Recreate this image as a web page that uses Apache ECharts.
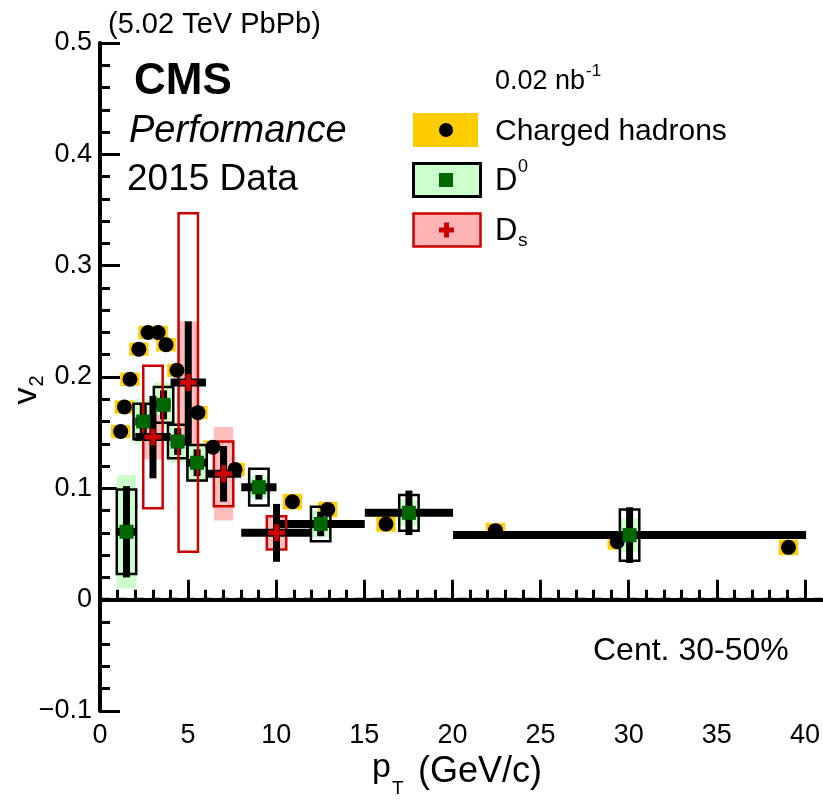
<!DOCTYPE html>
<html>
<head>
<meta charset="utf-8">
<script src="https://cdn.jsdelivr.net/npm/echarts@6/dist/echarts.min.js"></script>
<style>
  html, body { margin: 0; padding: 0; background: #fff; }
  #chart { width: 823px; height: 801px; }
</style>
</head>
<body>
<div id="chart"></div>
<script>
// ---- Charged hadrons v2 vs pT ----
const hadronPt  = [1.17, 1.38, 1.70, 2.20, 2.72, 3.29, 3.74, 4.36, 5.55, 6.40, 7.65, 10.9, 12.9, 16.2, 22.4, 29.3, 39.0];
const hadronV2  = [0.151, 0.173, 0.198, 0.225, 0.240, 0.240, 0.229, 0.206, 0.168, 0.137, 0.117, 0.088, 0.081, 0.068, 0.062, 0.052, 0.047];
const hadronSys = [0.006, 0.006, 0.006, 0.006, 0.006, 0.006, 0.006, 0.006, 0.006, 0.006, 0.006, 0.007, 0.007, 0.007, 0.007, 0.007, 0.007];

// ---- D0 ----
const d0Pt      = [1.5, 2.45, 3.6, 4.4, 5.5, 9.0, 12.5, 17.5, 30.0];
const d0V2      = [0.061, 0.160, 0.175, 0.142, 0.123, 0.101, 0.068, 0.078, 0.058];
const d0Stat    = [0.041, 0.016, 0.013, 0.012, 0.012, 0.011, 0.011, 0.020, 0.025];
const d0Sys     = [0.038, 0.016, 0.016, 0.015, 0.016, 0.0165, 0.0155, 0.016, 0.023];
const d0SysFit  = [0.051, 0.020, 0.020, 0.019, 0.018, 0.010, 0.012, 0.012, 0.015];
const d0BinLow  = [1, 2, 3, 4, 5, 8, 10, 15, 20];
const d0BinHigh = [2, 3, 4, 5, 6, 10, 15, 20, 40];

// ---- Ds ----
const dsPt      = [3.0, 5.0, 7.0, 10.0];
const dsV2      = [0.146, 0.195, 0.113, 0.060];
const dsStat    = [0.037, 0.055, 0.025, 0.026];
const dsSys     = [0.064, 0.152, 0.029, 0.015];
const dsSysFit  = [0.020, 0.055, 0.042, 0.014];
const dsBinLow  = [2, 4, 6, 8];
const dsBinHigh = [4, 6, 8, 12];

// ---- Axis ticks ----
const xTickMax = 40;
const xTickStep = 5;
const yMin = -0.1, yMax = 0.5, yStep = 0.1;

const FONT = "'Liberation Sans', Arial, Helvetica, sans-serif";
const X_RANGE_MAX = 40.9;       // frame extends a bit beyond the last labelled tick
const BOX_HALF = 0.55;          // half width of systematic boxes in GeV/c

const C_YELLOW = '#ffcc00';
const C_LGREEN = '#ccffcc';
const C_DGREEN = '#006600';
const C_PINK   = '#ffb3b3';
const C_RED    = '#cc0000';

const zip = (...cols) => cols[0].map((_, i) => cols.map(c => c[i]));

// filled / outlined systematic boxes
function boxSeries(data, style) {
  return {
    type: 'custom', xAxisIndex: 0, yAxisIndex: 0, data, silent: true,
    renderItem(params, api) {
      const x = api.value(0), y = api.value(1), h = api.value(2);
      const p1 = api.coord([x - BOX_HALF, y + h]);
      const p2 = api.coord([x + BOX_HALF, y - h]);
      return { type: 'rect', shape: { x: p1[0], y: p1[1], width: p2[0] - p1[0], height: p2[1] - p1[1] }, style };
    }
  };
}

// statistical error bar (vertical) plus bin-width bar (horizontal)
function errorSeries(data) {
  return {
    type: 'custom', xAxisIndex: 0, yAxisIndex: 0, data, silent: true,
    renderItem(params, api) {
      const x = api.value(0), y = api.value(1), s = api.value(2), lo = api.value(3), hi = api.value(4);
      const a = api.coord([lo, y]), b = api.coord([hi, y]);
      const t = api.coord([x, y + s]), u = api.coord([x, y - s]);
      return {
        type: 'group',
        children: [
          { type: 'rect', shape: { x: a[0], y: a[1] - 4, width: b[0] - a[0], height: 8 }, style: { fill: '#000' } },
          { type: 'rect', shape: { x: t[0] - 3.5, y: t[1], width: 7, height: u[1] - t[1] }, style: { fill: '#000' } }
        ]
      };
    }
  };
}

const crossPath = 'path://M6,0H11V6H17V11H11V17H6V11H0V6H6Z';

const series = [
  // charged hadrons
  boxSeries(zip(hadronPt, hadronV2, hadronSys), { fill: C_YELLOW }),
  { type: 'scatter', xAxisIndex: 0, yAxisIndex: 0, data: zip(hadronPt, hadronV2),
    symbol: 'circle', symbolSize: 15, itemStyle: { color: '#000', opacity: 1 }, silent: true },
  // filled systematic boxes
  boxSeries(zip(d0Pt, d0V2, d0SysFit), { fill: C_LGREEN }),
  boxSeries(zip(dsPt, dsV2, dsSysFit), { fill: C_PINK, opacity: 0.85 }),
  // D0
  boxSeries(zip(d0Pt, d0V2, d0Sys), { fill: 'none', stroke: '#000', lineWidth: 2.5 }),
  errorSeries(zip(d0Pt, d0V2, d0Stat, d0BinLow, d0BinHigh)),
  { type: 'scatter', xAxisIndex: 0, yAxisIndex: 0, data: zip(d0Pt, d0V2),
    symbol: 'rect', symbolSize: 14, itemStyle: { color: C_DGREEN, opacity: 1 }, silent: true },
  // Ds
  boxSeries(zip(dsPt, dsV2, dsSys), { fill: 'none', stroke: C_RED, lineWidth: 2.5 }),
  errorSeries(zip(dsPt, dsV2, dsStat, dsBinLow, dsBinHigh)),
  { type: 'scatter', xAxisIndex: 0, yAxisIndex: 0, data: zip(dsPt, dsV2),
    symbol: crossPath, symbolSize: 17, itemStyle: { color: C_RED, opacity: 1 }, silent: true },
  // v2 = 0 reference line
  { type: 'line', xAxisIndex: 0, yAxisIndex: 0, data: [[0, 0], [X_RANGE_MAX, 0]],
    symbol: 'none', silent: true, lineStyle: { color: '#000', width: 4, type: [10, 7] } }
];

function txt(x, y, text, size, extra) {
  return {
    type: 'text', x, y, silent: true,
    style: Object.assign({
      text, fill: '#000', fontFamily: FONT, fontSize: size,
      align: 'left', verticalAlign: 'middle', textAlign: 'left', textVerticalAlign: 'middle'
    }, extra || {})
  };
}

function vtxt(x, y, text, size) {
  return {
    type: 'text', x, y, rotation: Math.PI / 2, silent: true,
    style: { text, fill: '#000', fontFamily: FONT, fontSize: size,
      align: 'center', verticalAlign: 'middle', textAlign: 'center', textVerticalAlign: 'middle' }
  };
}

const graphics = [
  txt(108, 25, '(5.02 TeV PbPb)', 29),
  txt(134, 82, 'CMS', 44, { fontWeight: 'bold' }),
  txt(129, 131, 'Performance', 38, { fontStyle: 'italic' }),
  txt(127, 180, '2015 Data', 37),
  txt(495, 82, '0.02 nb', 27),
  txt(586, 71, '-1', 17),
  // legend
  { type: 'rect', shape: { x: 413, y: 113, width: 65, height: 34 }, style: { fill: C_YELLOW }, silent: true },
  { type: 'circle', shape: { cx: 446, cy: 130, r: 7 }, style: { fill: '#000' }, silent: true },
  txt(495, 132, 'Charged hadrons', 30),
  { type: 'rect', shape: { x: 413.5, y: 163.5, width: 67, height: 33 }, style: { fill: C_LGREEN, stroke: '#000', lineWidth: 3 }, silent: true },
  { type: 'rect', shape: { x: 439, y: 173, width: 14, height: 14 }, style: { fill: C_DGREEN }, silent: true },
  txt(495, 181, 'D', 31),
  txt(518, 167, '0', 18),
  { type: 'rect', shape: { x: 413.5, y: 213.5, width: 67, height: 33 }, style: { fill: C_PINK, stroke: C_RED, lineWidth: 2.5 }, silent: true },
  { type: 'rect', shape: { x: 439, y: 227.5, width: 15, height: 5 }, style: { fill: C_RED }, silent: true },
  { type: 'rect', shape: { x: 444, y: 222.5, width: 5, height: 15 }, style: { fill: C_RED }, silent: true },
  txt(495, 231, 'D', 31),
  txt(518, 241, 's', 19),
  txt(593, 651, 'Cent. 30-50%', 32),
  // axis titles
  txt(372, 768, 'p', 34),
  txt(392, 789, 'T', 19),
  txt(418, 772, '(GeV/c)', 36),
  vtxt(27, 396, 'v', 34),
  vtxt(37, 381, '2', 20)
];

const blackLine = w => ({ show: true, lineStyle: { color: '#000', width: w } });

const option = {
  animation: false,
  backgroundColor: '#fff',
  grid: [
    { left: 100, right: 1, top: 43, bottom: 90 },          // data frame
    { left: 100, right: 17, top: 43, bottom: 90 }          // labelled pT ticks 0..40
  ],
  xAxis: [
    { type: 'value', gridIndex: 0, min: 0, max: X_RANGE_MAX, position: 'bottom',
      axisLine: blackLine(4), axisTick: { show: false }, axisLabel: { show: false }, splitLine: { show: false } },
    { type: 'value', gridIndex: 0, min: 0, max: X_RANGE_MAX, position: 'top',
      axisLine: blackLine(3), axisTick: { show: false }, axisLabel: { show: false }, splitLine: { show: false } },
    { type: 'value', gridIndex: 1, min: 0, max: xTickMax, interval: xTickStep, position: 'bottom',
      axisLine: { show: false },
      axisTick: { show: true, inside: true, length: 20, lineStyle: { color: '#000', width: 3 } },
      minorTick: { show: true, splitNumber: 5, length: 10, lineStyle: { color: '#000', width: 3 } },
      axisLabel: { color: '#000', fontFamily: FONT, fontSize: 27, margin: 11 },
      splitLine: { show: false } }
  ],
  yAxis: [
    { type: 'value', gridIndex: 0, min: yMin, max: yMax, interval: yStep, position: 'left',
      axisLine: blackLine(4),
      axisTick: { show: true, inside: true, length: 20, lineStyle: { color: '#000', width: 3 } },
      minorTick: { show: true, splitNumber: 5, length: 10, lineStyle: { color: '#000', width: 3 } },
      axisLabel: { color: '#000', fontFamily: FONT, fontSize: 27, margin: 8,
        formatter: v => { const r = Math.round(v * 10) / 10; return r === 0 ? '0' : String(r).replace('-', '\u2212'); } },
      splitLine: { show: false } },
    { type: 'value', gridIndex: 0, min: yMin, max: yMax, position: 'right',
      axisLine: blackLine(2), axisTick: { show: false }, axisLabel: { show: false }, splitLine: { show: false } },
    { type: 'value', gridIndex: 1, min: yMin, max: yMax, show: false }
  ],
  series,
  graphic: graphics
};

const chart = echarts.init(document.getElementById('chart'), null, { renderer: 'canvas' });
chart.setOption(option);
</script>
</body>
</html>
